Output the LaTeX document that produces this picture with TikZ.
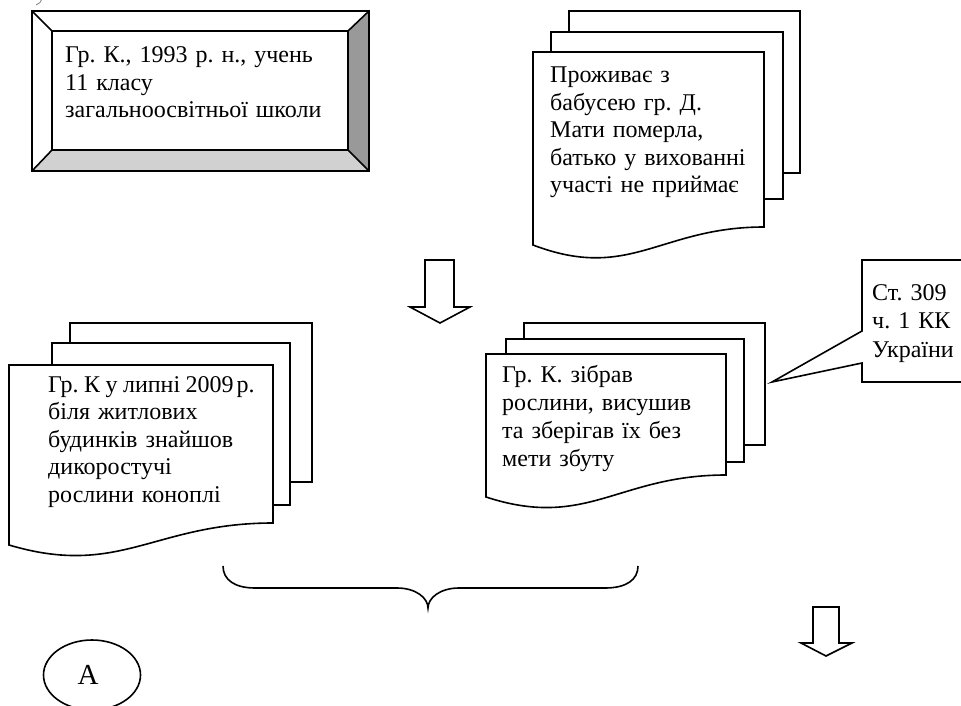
\documentclass[tikz,border=0pt]{standalone}
\usepackage{fontspec}
\setmainfont{Liberation Serif}
\frenchspacing
\usetikzlibrary{shapes.geometric}
\begin{document}
\frenchspacing
\begin{tikzpicture}[x=1pt,y=-1pt,
  ln/.style={line width=1.6pt, line join=miter},
  sheet/.style={ln, fill=white},
  txt/.style={anchor=base west, inner sep=0pt, text width=300pt, align=left,
    font=\fontsize{24}{27.5}\selectfont},
  blockarrow/.style={ln, fill=white},
  darkbevel/.style={fill=black!40},
  lightbevel/.style={fill=black!18}]
\useasboundingbox (0,0) rectangle (961,706);
\clip (0,0) rectangle (961,706);

% small fragment at top-left
\draw[line width=0.8pt, black!50] (36,5) .. controls (39,4) and (41,2) .. (42,-1);

% ---------- bevelled box ----------
\fill[white] (32,11) rectangle (369,171);
\fill[darkbevel] (369,11) -- (369,171) -- (348,150) -- (348,31) -- cycle;
\fill[lightbevel] (32,171) -- (369,171) -- (348,150) -- (52,150) -- cycle;
\draw[ln] (32,11) rectangle (369,171);
\draw[ln] (52,31) rectangle (348,150);
\draw[ln] (32,11) -- (52,31) (369,11) -- (348,31) (32,171) -- (52,150) (369,171) -- (348,150);
\node[txt] (box1) at (65,63) {Гр. К., 1993 р. н., учень\\11 класу\\загальноосвітньої школи};

% ---------- top-right multidocument ----------
\draw[sheet] (569,11) rectangle (800,173);
\draw[sheet] (551,32) rectangle (783,199);
\draw[sheet] (533,52) -- (764,52) -- (764,227) .. controls (660,227) and (630,282) .. (533,245) -- cycle;
\node[txt] (doc1) at (550,83) {Проживає з\\бабусею гр. Д.\\Мати померла,\\батько у вихованні\\участі не приймає};

% ---------- block arrow 1 ----------
\draw[blockarrow] (425,260) -- (454,260) -- (454,307) -- (470,307) -- (440,323) -- (410,307) -- (425,307) -- cycle;

% ---------- left multidocument ----------
\draw[sheet] (70,323) rectangle (312,482);
\draw[sheet] (52,343) rectangle (290,505);
\draw[sheet] (9,365) -- (273,365) -- (273,523) .. controls (154,523) and (120,578) .. (9,545) -- cycle;
\node[txt] (doc2) at (48,392) {Гр.\hspace{5.5pt}К\hspace{5.5pt}у\hspace{5.5pt}липні\hspace{5.5pt}2009\hspace{3pt}р.\\біля житлових\\будинків знайшов\\дикоростучі\\рослини коноплі};

% ---------- middle multidocument ----------
\draw[sheet] (524,323) rectangle (765,445);
\draw[sheet] (506,339) rectangle (744,462);
\draw[sheet] (486,354) -- (726,354) -- (726,475) .. controls (618,475) and (587,530) .. (486,497) -- cycle;
\node[txt, font=\fontsize{24}{28.3}\selectfont] (doc3) at (502,382) {Гр. К. зібрав\\рослини, висушив\\та зберігав їх без\\мети збуту};

% ---------- callout ----------
\draw[sheet] (966,260) -- (862,260) -- (862,331) -- (772,382) -- (862,363) -- (862,382) -- (966,382);
\node[txt, font=\fontsize{24}{28.5}\selectfont] (law) at (872,300) {Ст. 309\\ч. 1 КК\\України};

% ---------- brace ----------
\draw[line width=1.6pt] (223,566) .. controls (223,580) and (235,588) .. (255,588) -- (397,588)
  .. controls (416,588) and (428,598) .. (428,608)
  .. controls (428,598) and (440,588) .. (459,588) -- (605,588)
  .. controls (626,588) and (638,580) .. (638,566);

% ---------- block arrow 2 ----------
\draw[blockarrow] (813,607) -- (839,607) -- (839,643) -- (852,643) -- (826,656) -- (801,643) -- (813,643) -- cycle;

% ---------- ellipse A ----------
\node[ellipse, draw, line width=1.6pt, minimum width=97pt, minimum height=70pt, inner sep=0pt,
  font=\fontsize{29}{30}\selectfont] (A) at (92,675) {\hspace{-8pt}A};
\end{tikzpicture}
\end{document}
